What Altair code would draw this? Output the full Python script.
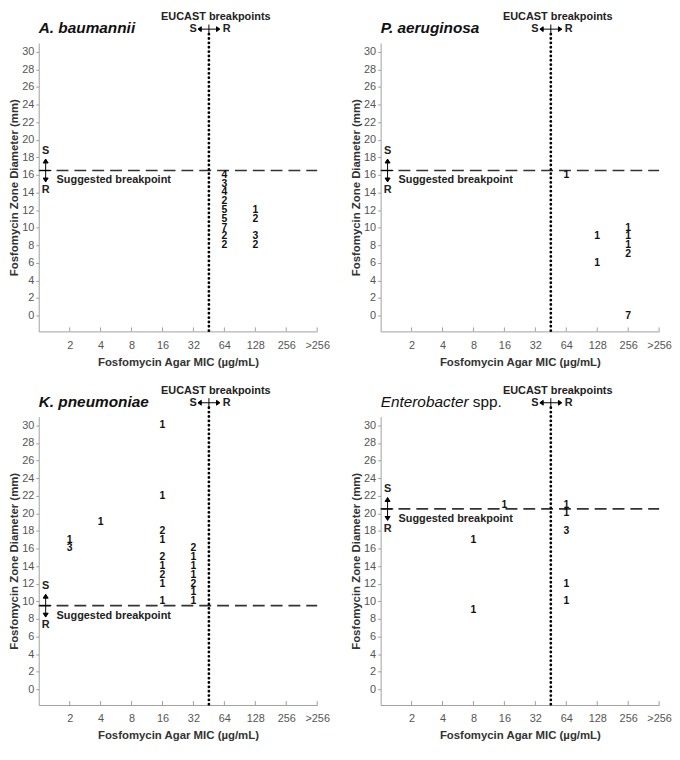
import json
import altair as alt
import pandas as pd

# ---------------- data ----------------
mic_labels = ["2", "4", "8", "16", "32", "64", "128", "256", ">256"]

ab_mic = ["64", "64", "64", "64", "64", "64", "64", "64", "64", "128", "128", "128", "128"]
ab_zone = [16, 15, 14, 13, 12, 11, 10, 9, 8, 12, 11, 9, 8]
ab_n = [4, 3, 4, 2, 5, 5, 7, 2, 2, 1, 2, 3, 2]

pa_mic = ["64", "128", "128", "256", "256", "256", "256", "256"]
pa_zone = [16, 9, 6, 10, 9, 8, 7, 0]
pa_n = [1, 1, 1, 1, 1, 1, 2, 7]

kp_mic = ["2", "2", "4", "16", "16", "16", "16", "16", "16", "16", "16", "16",
          "32", "32", "32", "32", "32", "32", "32"]
kp_zone = [17, 16, 19, 30, 22, 18, 17, 15, 14, 13, 12, 10, 16, 15, 14, 13, 12, 11, 10]
kp_n = [1, 3, 1, 1, 1, 2, 1, 2, 1, 2, 1, 1, 2, 1, 1, 1, 2, 1, 1]

en_mic = ["8", "8", "16", "64", "64", "64", "64", "64"]
en_zone = [17, 9, 21, 21, 20, 18, 12, 10]
en_n = [1, 1, 1, 1, 1, 3, 1, 1]

suggested_bp = {"ab": 16.5, "pa": 16.5, "kp": 9.5, "en": 20.5}
eucast_bp = 5.5  # between 32 and 64 on the category axis
y_ticks = list(range(0, 31, 2))
y_domain = [-1.8, 31]

# ---------------- layout ----------------
W = 281
H = 291
FONT = "Liberation Sans"

label_expr = "[''," + ",".join(json.dumps(l) for l in mic_labels) + "][datum.value]"

xscale = alt.Scale(domain=[0, len(mic_labels)], nice=False, zero=False)
yscale = alt.Scale(domain=y_domain, nice=False, zero=False)
xaxis = alt.Axis(values=list(range(1, len(mic_labels) + 1)), labelExpr=label_expr,
                 ticks=False, tickSize=0, labelPadding=8, titlePadding=6,
                 labelOverlap=False, labelFlush=False,
                 title="Fosfomycin Agar MIC (µg/mL)", grid=False)
yaxis = alt.Axis(values=y_ticks, tickSize=3, labelPadding=2, titlePadding=2,
                 labelOverlap=False,
                 title="Fosfomycin Zone Diameter (mm)", grid=False)


def X(f):
    return alt.X(f, type="quantitative", scale=xscale, axis=xaxis)


def Y(f):
    return alt.Y(f, type="quantitative", scale=yscale, axis=yaxis)


VARROW = ("M0,-1L0,1M-0.22,-0.66L0,-1L0.22,-0.66ZM-0.22,0.66L0,1L0.22,0.66Z"
          "M-0.5,0L0.5,0")
HARROW = ("M-1,0L1,0M-0.7,-0.22L-1,0L-0.7,0.22ZM0.7,-0.22L1,0L0.7,0.22Z"
          "M0,-0.42L0,0.42")


def panel(title_it, title_plain, mic, zone, n, bp, bold_title=True):
    df = pd.DataFrame({"pos": [mic_labels.index(m) + 1 for m in mic],
                       "zone": zone, "n": n})
    bpdf = pd.DataFrame({"bp": [bp]})
    edf = pd.DataFrame({"e": [eucast_bp]})
    tdf = pd.DataFrame({"t": list(range(1, len(mic_labels) + 1))})

    ticks = alt.Chart(tdf).mark_rule(color="#a0a0a0", strokeWidth=1).encode(
        x=X("t"), y=alt.value(H), y2=alt.value(H - 4))

    dashed = alt.Chart(bpdf).mark_rule(color="#333333", strokeWidth=1.7,
                                       strokeDash=[12, 6]).encode(
        y=Y("bp"), x=alt.value(0), x2=alt.value(W))

    dotted = alt.Chart(edf).mark_rule(color="black", strokeWidth=2.8,
                                      strokeDash=[0.1, 4.3], strokeCap="round").encode(
        x=X("e"), y=alt.value(-9), y2=alt.value(H))

    e_arrow = alt.Chart(edf).mark_point(shape=HARROW, size=484, filled=True,
                                        color="black", stroke="black",
                                        strokeWidth=1, opacity=1).encode(
        x=X("e"), y=alt.value(-14))
    e_text = alt.Chart(edf).mark_text(text="EUCAST breakpoints", font=FONT,
                                      fontSize=11, fontWeight="bold", dx=7,
                                      color="#222").encode(
        x=X("e"), y=alt.value(-26))
    e_s = alt.Chart(edf).mark_text(text="S", font=FONT, fontSize=11,
                                   fontWeight="bold", dx=-16, color="#222").encode(
        x=X("e"), y=alt.value(-14))
    e_r = alt.Chart(edf).mark_text(text="R", font=FONT, fontSize=11,
                                   fontWeight="bold", dx=18, color="#222").encode(
        x=X("e"), y=alt.value(-14))

    s_arrow = alt.Chart(bpdf).mark_point(shape=VARROW, size=529, filled=True,
                                         color="black", stroke="black",
                                         strokeWidth=1, opacity=1).encode(
        x=alt.value(7), y=Y("bp"))
    s_s = alt.Chart(bpdf).mark_text(text="S", font=FONT, fontSize=11,
                                    fontWeight="bold", dy=-20, color="#222").encode(
        x=alt.value(7), y=Y("bp"))
    s_r = alt.Chart(bpdf).mark_text(text="R", font=FONT, fontSize=11,
                                    fontWeight="bold", dy=20, color="#222").encode(
        x=alt.value(7), y=Y("bp"))
    s_text = alt.Chart(bpdf).mark_text(text="Suggested breakpoint", font=FONT,
                                       fontSize=11, fontWeight="bold", align="left",
                                       dy=10, color="#222").encode(
        x=alt.value(18), y=Y("bp"))

    counts = alt.Chart(df).mark_text(font=FONT, fontSize=10.5, fontWeight="bold",
                                     color="#111").encode(
        x=X("pos"), y=Y("zone"), text="n:Q")

    t1 = alt.Chart(edf).mark_text(text=title_it, font=FONT, fontSize=15.5,
                                  fontStyle="italic",
                                  fontWeight="bold" if bold_title else "normal",
                                  align="left", color="#111").encode(
        x=alt.value(0), y=alt.value(-15))
    layers = [ticks, dashed, dotted, e_arrow, e_text, e_s, e_r,
              s_arrow, s_s, s_r, s_text, counts, t1]
    if title_plain:
        t2 = alt.Chart(edf).mark_text(text=title_plain, font=FONT, fontSize=15.5,
                                      align="left", color="#111").encode(
            x=alt.value(93), y=alt.value(-15))
        layers.append(t2)
    return alt.layer(*layers).properties(width=W, height=H)


p1 = panel("A. baumannii", None, ab_mic, ab_zone, ab_n, suggested_bp["ab"])
p2 = panel("P. aeruginosa", None, pa_mic, pa_zone, pa_n, suggested_bp["pa"])
p3 = panel("K. pneumoniae", None, kp_mic, kp_zone, kp_n, suggested_bp["kp"])
p4 = panel("Enterobacter", "spp.", en_mic, en_zone, en_n, suggested_bp["en"],
           bold_title=False)

chart = alt.concat(p1, p2, p3, p4, columns=2,
                   spacing=alt.RowColnumber(row=86, column=64),
                   bounds="flush").properties(
    padding=0
).configure_view(stroke=None).configure_axis(
    domainColor="#a0a0a0", tickColor="#a0a0a0", labelColor="#555555",
    labelFont=FONT, labelFontSize=11, titleFont=FONT, titleFontSize=11.5,
    titleFontWeight="bold", titleColor="#333333", grid=False
)

chart.save("out.html", embed_options={"renderer": "svg", "actions": False})
